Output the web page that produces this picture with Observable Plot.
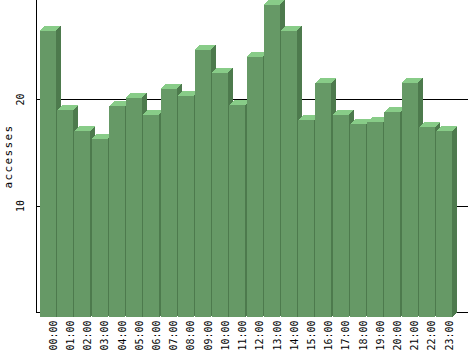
<!DOCTYPE html>
<html><head><meta charset="utf-8">
<script src="https://cdn.jsdelivr.net/npm/d3@7"></script>
<script src="https://cdn.jsdelivr.net/npm/@observablehq/plot@0.6"></script>
<style>
html,body{margin:0;padding:0;background:#fff;}
#chart svg{display:block;background:#fff;}
#chart g[aria-label="y-axis label"] text{font-family:"DejaVu Sans Mono",monospace;font-size:11px;letter-spacing:1.4px;}
</style></head><body><div id="chart"></div>
<script>
const hours = ["00:00","01:00","02:00","03:00","04:00","05:00","06:00","07:00","08:00","09:00","10:00","11:00",
               "12:00","13:00","14:00","15:00","16:00","17:00","18:00","19:00","20:00","21:00","22:00","23:00"];
const accesses = [26.9,19.4,17.45,16.7,19.8,20.6,19.0,21.4,20.8,25.1,22.95,19.9,
                  24.4,29.3,26.9,18.5,22.0,19.0,18.1,18.3,19.25,22.0,17.8,17.45];
const yTicks = [10, 20];
const gridTicks = [0, 10, 20];
const frontColor = "#669966", topColor = "#88cc88", sideColor = "#4d7a4d";
const depth = 5;

const rows = hours.map((h, i) => ({hour: h, value: accesses[i]}));

function bars3d(index, scales) {
  const sx = scales.x, sy = scales.y;
  const bw = typeof sx.bandwidth === "function" ? sx.bandwidth() : sx.bandwidth;
  const g = d3.create("svg:g").attr("shape-rendering", "crispEdges");
  const y0 = sy(0), d = depth;
  for (const i of index) {
    const x0 = sx(rows[i].hour), x1 = x0 + bw, y = sy(rows[i].value);
    const b = g.append("g");
    b.append("polygon").attr("points", [[x1 - d, y + d], [x1, y], [x1, y0], [x1 - d, y0 + d]].join(" ")).attr("fill", sideColor);
    b.append("polygon").attr("points", [[x0 - d, y + d], [x0, y], [x1, y], [x1 - d, y + d]].join(" ")).attr("fill", topColor);
    b.append("rect").attr("x", x0 - d).attr("y", y + d).attr("width", bw).attr("height", Math.max(0, y0 - y)).attr("fill", frontColor);
  }
  return g.node();
}

const chart = Plot.plot({
  width: 468, height: 351,
  marginLeft: 36, marginRight: 0, marginTop: 0, marginBottom: 39,
  style: {background: "#fff"},
  x: {domain: hours, insetLeft: 9, insetRight: 11, paddingInner: 0.07, paddingOuter: 0, round: false, label: null},
  y: {domain: [0, 29.3], label: null},
  marks: [
    Plot.gridY(gridTicks, {stroke: "#000", strokeOpacity: 1, shapeRendering: "crispEdges"}),
    Plot.barY(rows, {x: "hour", y: "value", render: bars3d}),
    Plot.frame({anchor: "left", stroke: "#000", shapeRendering: "crispEdges"}),
    Plot.axisY(yTicks, {tickSize: 0, tickPadding: 13, tickRotate: -90, textAnchor: "middle",
      fontFamily: "DejaVu Sans Mono", fontSize: 10, label: "accesses", labelArrow: false, labelAnchor: "center", labelOffset: 32}),
    Plot.axisX({tickSize: 0, tickPadding: 8, tickRotate: -90, fontFamily: "DejaVu Sans Mono", fontSize: 10, label: null})
  ]
});
document.getElementById("chart").appendChild(chart);
</script></body></html>
